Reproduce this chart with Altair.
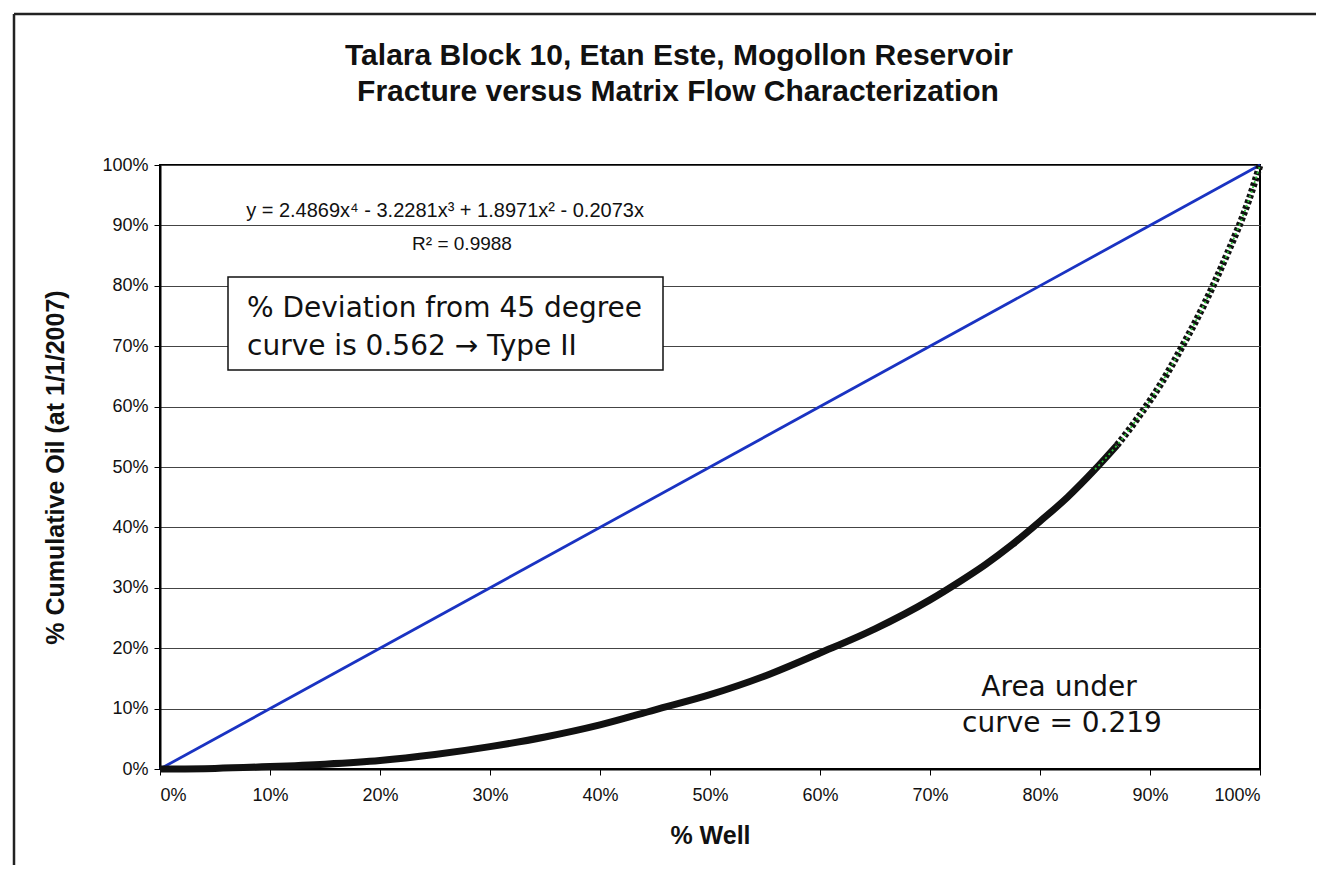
import altair as alt
import pandas as pd

# % Well (x) and % cumulative oil (y)
well_pct = [0, 5, 10, 15, 20, 25, 30, 35, 40, 45, 50, 55, 60, 65, 70, 72.5, 75, 77.5, 80, 82.5,
            85, 87, 89, 91, 93, 95, 97, 99, 100]
oil_pct = [0, 0.1, 0.4, 0.8, 1.4, 2.4, 3.7, 5.3, 7.3, 9.8, 12.3, 15.4, 19.2, 23.2, 28.0, 30.8, 33.8,
           37.2, 41.0, 45.0, 49.6, 53.6, 58.4, 63.8, 70.2, 77.2, 85.2, 94.3, 100]

# 45 degree reference line
diag_x = [0, 100]
diag_y = [0, 100]

tick_values = [0, 10, 20, 30, 40, 50, 60, 70, 80, 90, 100]

title_lines = ["Talara Block 10, Etan Este, Mogollon Reservoir",
               "Fracture versus Matrix Flow Characterization"]
equation = "y = 2.4869x\u2074 - 3.2281x\u00b3 + 1.8971x\u00b2 - 0.2073x"
r2_text = "R\u00b2 = 0.9988"
box_lines = ["% Deviation from 45 degree", "curve is 0.562 \u2192 Type II"]
area_lines = ["Area under", "curve = 0.219"]

curve = pd.DataFrame({"well": well_pct, "oil": oil_pct})
diag = pd.DataFrame({"well": diag_x, "oil": diag_y})
one = pd.DataFrame({"a": [0]})

W, H = 1100, 604

xs = alt.Scale(domain=[0, 100], nice=False, zero=False)
ys = alt.Scale(domain=[0, 100], nice=False, zero=False)

x_axis = alt.Axis(values=tick_values, labelExpr="datum.value + '%'", grid=False,
                  tickSize=6, tickColor="black", domainColor="black", domainWidth=2,
                  labelFont="Liberation Sans", labelFontSize=18, labelColor="#111111",
                  labelPadding=11, title="% Well", titleFont="Liberation Sans",
                  titleFontSize=25, titleFontWeight="bold", titleColor="#111111",
                  titleX=W / 2, titleY=66, titleBaseline="middle", titleAlign="center")
y_axis = alt.Axis(values=tick_values, labelExpr="datum.value + '%'", grid=True,
                  gridColor="#444444", gridWidth=1.2,
                  tickSize=6, tickColor="black", domainColor="black", domainWidth=2,
                  labelFont="Liberation Sans", labelFontSize=18, labelColor="#111111",
                  labelPadding=6, title="% Cumulative Oil (at 1/1/2007)",
                  titleFont="Liberation Sans", titleFontSize=25, titleFontWeight="bold",
                  titleColor="#111111", titleAngle=270, titleX=-105, titleY=H / 2,
                  titleBaseline="middle", titleAlign="center")

base = alt.Chart(curve)

diag_line = alt.Chart(diag).mark_line(color="#1a33c2", strokeWidth=2.8).encode(
    x=alt.X("well:Q", scale=xs, axis=x_axis),
    y=alt.Y("oil:Q", scale=ys, axis=y_axis),
)

curve_solid = base.transform_filter("datum.well <= 87").mark_line(
    color="#111111", strokeWidth=7, interpolate="monotone").encode(
    x=alt.X("well:Q", scale=xs), y=alt.Y("oil:Q", scale=ys))

curve_dotted = base.transform_filter("datum.well >= 87").mark_line(
    color="#111111", strokeWidth=7, strokeDash=[3.5, 2.5], interpolate="monotone").encode(
    x=alt.X("well:Q", scale=xs), y=alt.Y("oil:Q", scale=ys))

trend = base.transform_filter("datum.well >= 85").mark_line(
    color="#2fc43a", strokeWidth=1.8, strokeDash=[2, 3], interpolate="monotone").encode(
    x=alt.X("well:Q", scale=xs), y=alt.Y("oil:Q", scale=ys))

box = alt.Chart(one).mark_rect(fill="white", stroke="#111111", strokeWidth=1.5).encode(
    x=alt.value(68), x2=alt.value(503), y=alt.value(112), y2=alt.value(205))


def txt(text, x, y, size, font="Liberation Sans", weight="normal", align="center",
        baseline="alphabetic"):
    return alt.Chart(one).mark_text(text=text, font=font, fontSize=size, fontWeight=weight,
                                    align=align, baseline=baseline, color="#111111").encode(
        x=alt.value(x), y=alt.value(y))


texts = [
    txt(title_lines[0], 519, -100, 30, weight="bold"),
    txt(title_lines[1], 518, -64, 30, weight="bold"),
    txt(equation, 285, 52, 20),
    txt(r2_text, 302, 85, 19),
    txt(box_lines[0], 87, 152, 28, font="DejaVu Sans", align="left"),
    txt(box_lines[1], 87, 190, 28, font="DejaVu Sans", align="left"),
    txt(area_lines[0], 899, 531, 28, font="DejaVu Sans"),
    txt(area_lines[1], 902, 567, 28, font="DejaVu Sans"),
]

frame_left = alt.Chart(one).mark_rule(color="#222222", strokeWidth=2.5).encode(
    x=alt.value(-146), y=alt.value(-151), y2=alt.value(720))
frame_top = alt.Chart(one).mark_rule(color="#222222", strokeWidth=2.5).encode(
    x=alt.value(-146), x2=alt.value(1200), y=alt.value(-151))

chart = alt.layer(diag_line, curve_solid, curve_dotted, trend, box, *texts,
                  frame_left, frame_top).properties(
    width=W, height=H,
    autosize=alt.AutoSizeParams(type="none"),
    padding={"left": 152, "top": 157, "right": 56, "bottom": 96},
    background="white",
).configure_view(stroke="black", strokeWidth=2)

chart.save("out.html", embed_options={"renderer": "svg", "actions": False})
